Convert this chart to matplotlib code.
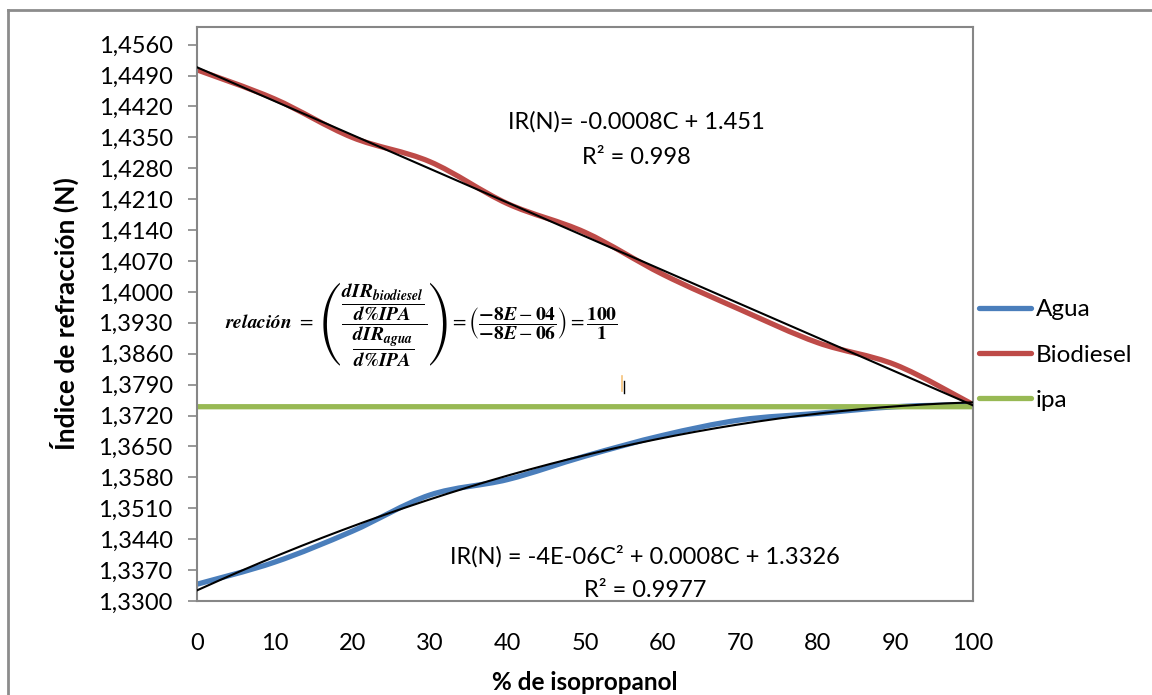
import numpy as np
import matplotlib
matplotlib.use("Agg")
import matplotlib.pyplot as plt
from matplotlib.path import Path
from matplotlib.patches import PathPatch
from matplotlib.lines import Line2D

plt.rcParams["font.family"] = ["Lato", "DejaVu Sans"]
plt.rcParams["mathtext.fontset"] = "stix"

# % isopropanol in the mixture
isopropanol = [0, 10, 20, 30, 40, 50, 60, 70, 80, 90, 100]
# refractive index readings
agua = [1.3338, 1.3388, 1.3458, 1.3540, 1.3575, 1.3628, 1.3675, 1.3710, 1.3725, 1.3740, 1.3745]
biodiesel = [1.4503, 1.4437, 1.4350, 1.4295, 1.4200, 1.4135, 1.4040, 1.3960, 1.3885, 1.3835, 1.3745]
ipa = [1.3740] * 11

x_ticks = [0, 10, 20, 30, 40, 50, 60, 70, 80, 90, 100]
y_ticks = np.round(np.arange(1.330, 1.4561, 0.007), 4)
y_labels = [f"{v:.4f}".replace(".", ",") for v in y_ticks]

series_names = ["Agua", "Biodiesel", "ipa"]
colors = {"Agua": "#4A7EBB", "Biodiesel": "#BE4B48", "ipa": "#98B954"}

FS = 17


def smooth_path(x, y):
    """Catmull-Rom style smoothing expressed as cubic Bezier segments."""
    pts = np.column_stack([x, y]).astype(float)
    n = len(pts)
    verts = [pts[0]]
    codes = [Path.MOVETO]
    for i in range(n - 1):
        p0 = pts[i - 1] if i > 0 else pts[i]
        p1 = pts[i]
        p2 = pts[i + 1]
        p3 = pts[i + 2] if i + 2 < n else pts[i + 1]
        c1 = p1 + (p2 - p0) / 6.0
        c2 = p2 - (p3 - p1) / 6.0
        verts += [c1, c2, p2]
        codes += [Path.CURVE4] * 3
    return Path(np.array(verts), codes)


fig = plt.figure(figsize=(11.52, 6.95), dpi=100)
ax = fig.add_axes([197 / 1152, 1 - 601 / 695, 776 / 1152, 574 / 695])

for name, vals in zip(series_names, [agua, biodiesel, ipa]):
    patch = PathPatch(smooth_path(isopropanol, vals), transform=ax.transData,
                      fill=False, edgecolor=colors[name], linewidth=3.8,
                      capstyle="butt", joinstyle="round", zorder=2)
    ax.add_patch(patch)

# trend lines fitted to the measurements
xs = np.linspace(0, 100, 300)
lin = np.polyfit(isopropanol, biodiesel, 1)
quad = np.polyfit(isopropanol, agua, 2)
ax.plot(xs, np.polyval(lin, xs), color="black", lw=1.5, zorder=3)
ax.plot(xs, np.polyval(quad, xs), color="black", lw=1.5, zorder=3)

ax.set_xlim(0, 100)
ax.set_ylim(1.33, 1.46)
ax.set_xticks(x_ticks)
ax.set_xticklabels([str(v) for v in x_ticks], fontsize=FS)
ax.set_yticks(y_ticks)
ax.set_yticklabels(y_labels, fontsize=FS)
ax.tick_params(axis="x", length=0, pad=23)
ax.tick_params(axis="y", length=6.5, width=1.2, color="#868686", pad=11, direction="out")
for sp in ax.spines.values():
    sp.set_color("#868686")
    sp.set_linewidth(1.5)

ax.set_xlabel("% de isopropanol", fontsize=17.5, fontweight="bold", labelpad=12)
ax.set_ylabel("Índice de refracción (N)", fontsize=19, fontweight="bold", labelpad=14)

# fitted equations
ax.text(0.566, 0.834, "IR(N)= -0.0008C + 1.451", transform=ax.transAxes,
        ha="center", va="center", fontsize=FS)
ax.text(0.566, 0.7735, "R² = 0.998", transform=ax.transAxes,
        ha="center", va="center", fontsize=FS)
ax.text(0.577, 0.0784, "IR(N) = -4E-06C² + 0.0008C + 1.3326", transform=ax.transAxes,
        ha="center", va="center", fontsize=FS)
ax.text(0.578, 0.019, "R² = 0.9977", transform=ax.transAxes,
        ha="center", va="center", fontsize=FS)

relation = (r"$\mathbfit{relación}\ =\ \left(\dfrac{\dfrac{\mathbfit{dIR}_{\mathbfit{biodiesel}}}{\mathbfit{d\%IPA}}}"
            r"{\dfrac{\mathbfit{dIR}_{\mathbfit{agua}}}{\mathbfit{d\%IPA}}}\right)"
            r" = \left(\dfrac{\mathbf{-8}\mathbfit{E} - \mathbf{04}}{\mathbf{-8}\mathbfit{E} - \mathbf{06}}\right)"
            r" = \dfrac{\mathbf{100}}{\mathbf{1}}$")
ax.text(0.289, 0.483, relation, transform=ax.transAxes, ha="center", va="center",
        fontsize=14)

# stray text cursor left in the plot area
ax.plot([0.5477, 0.5477], [0.366, 0.392], transform=ax.transAxes, color="#F5C27A", lw=1.2)
ax.plot([0.5503, 0.5503], [0.362, 0.383], transform=ax.transAxes, color="black", lw=1.0)

handles = [Line2D([], [], color=colors[n], lw=3.8, solid_capstyle="round") for n in series_names]
fig.legend(handles, series_names, loc="center left",
           bbox_to_anchor=(979 / 1152, 1 - 355 / 695), frameon=False,
           fontsize=17.5, handlelength=2.15, handletextpad=0.2, labelspacing=1.0,
           borderpad=0, borderaxespad=0)

# chart frame
fig.add_artist(Line2D([8 / 1152, 8 / 1152], [0, 1 - 10 / 695], transform=fig.transFigure,
                      color="#8C8C8C", lw=2))
fig.add_artist(Line2D([8 / 1152, 1], [1 - 10 / 695, 1 - 10 / 695], transform=fig.transFigure,
                      color="#8C8C8C", lw=2))

fig.savefig("out.png", dpi=100)
